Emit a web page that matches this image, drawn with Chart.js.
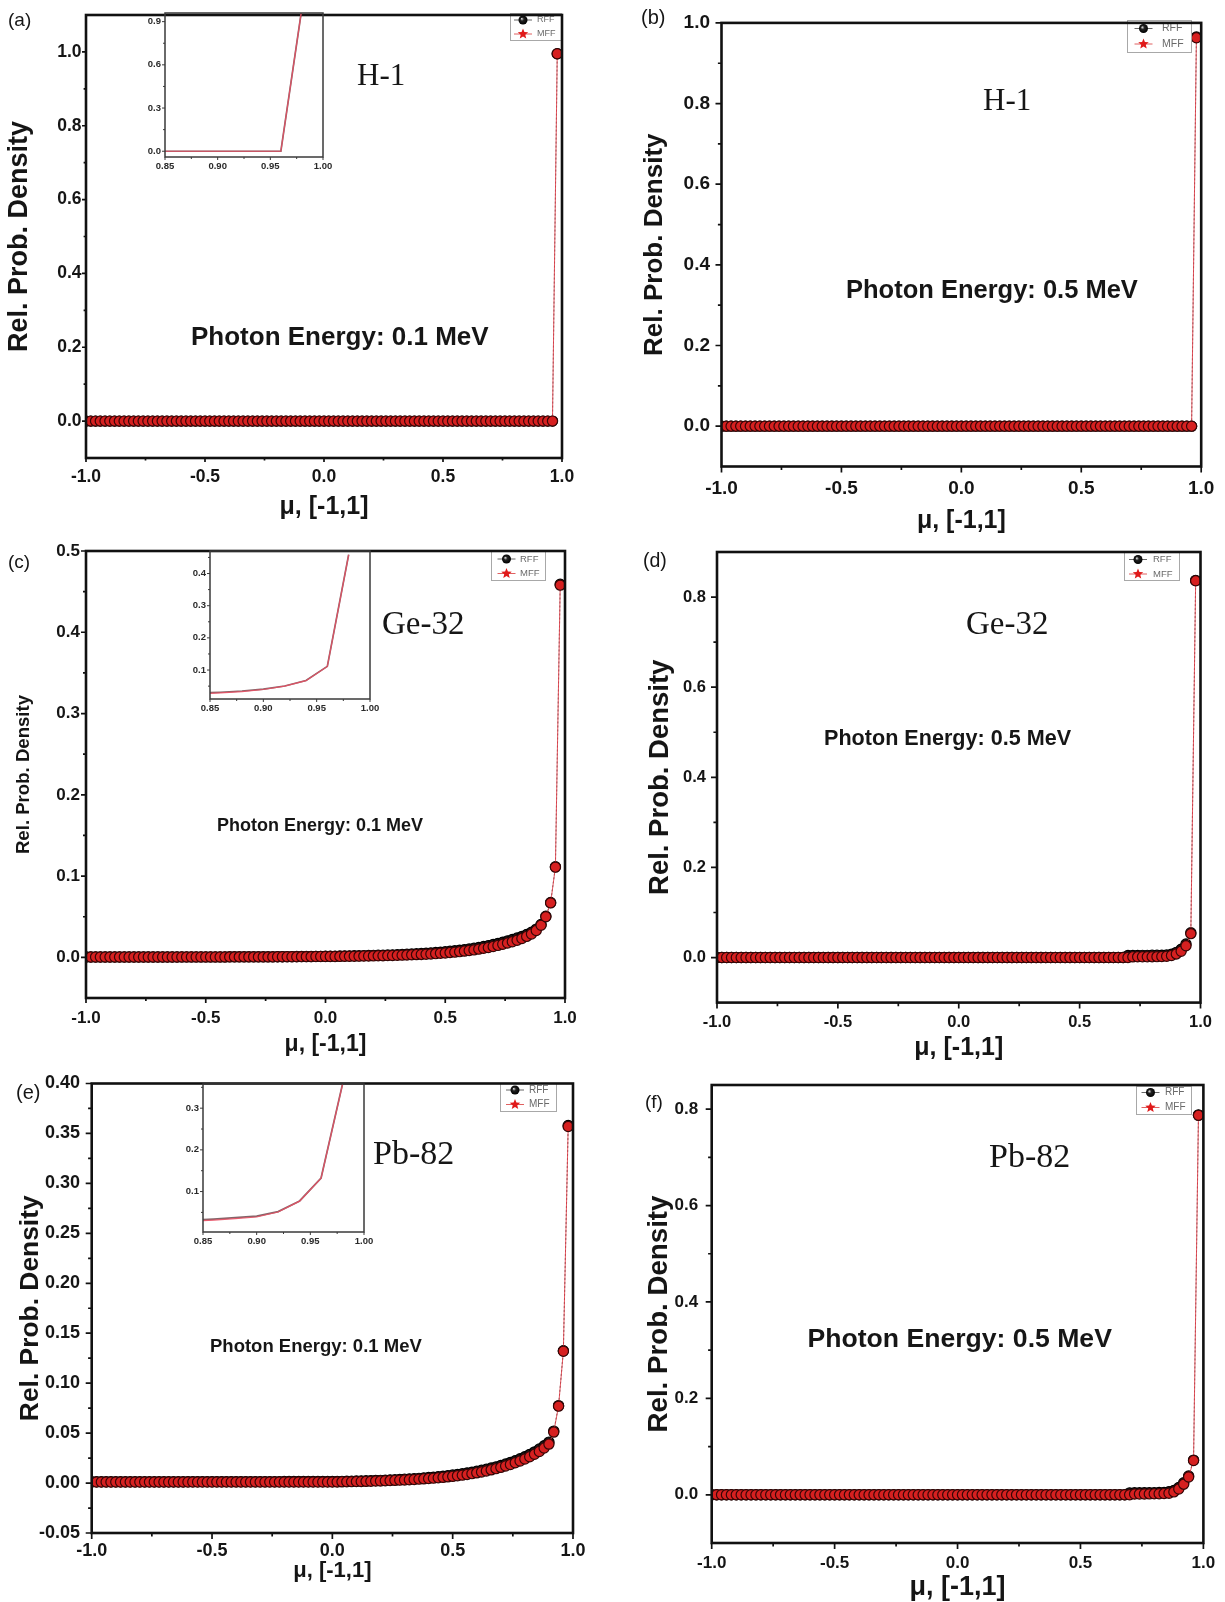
<!DOCTYPE html>
<html>
<head>
<meta charset="utf-8">
<script src="https://cdn.jsdelivr.net/npm/chart.js@4/dist/chart.umd.min.js"></script>
<style>
html,body{margin:0;padding:0;background:#fff;overflow:hidden;}
#page{position:relative;width:1225px;height:1602px;overflow:hidden;background:#fff;}
#page canvas{position:absolute;}
.t{position:absolute;white-space:nowrap;color:#161616;line-height:1;}
</style>
</head>
<body>
<div id="page"></div>
<script>
// ---------------- DATA ----------------
const mu = [
 -1.00,-0.98,-0.96,-0.94,-0.92,-0.90,-0.88,-0.86,-0.84,-0.82,
 -0.80,-0.78,-0.76,-0.74,-0.72,-0.70,-0.68,-0.66,-0.64,-0.62,
 -0.60,-0.58,-0.56,-0.54,-0.52,-0.50,-0.48,-0.46,-0.44,-0.42,
 -0.40,-0.38,-0.36,-0.34,-0.32,-0.30,-0.28,-0.26,-0.24,-0.22,
 -0.20,-0.18,-0.16,-0.14,-0.12,-0.10,-0.08,-0.06,-0.04,-0.02,
  0.00, 0.02, 0.04, 0.06, 0.08, 0.10, 0.12, 0.14, 0.16, 0.18,
  0.20, 0.22, 0.24, 0.26, 0.28, 0.30, 0.32, 0.34, 0.36, 0.38,
  0.40, 0.42, 0.44, 0.46, 0.48, 0.50, 0.52, 0.54, 0.56, 0.58,
  0.60, 0.62, 0.64, 0.66, 0.68, 0.70, 0.72, 0.74, 0.76, 0.78,
  0.80, 0.82, 0.84, 0.86, 0.88, 0.90, 0.92, 0.94, 0.96, 0.98
];

// (a) H-1, 0.1 MeV
const h1_01_RFF = [
 0,0,0,0,0,0,0,0,0,0, 0,0,0,0,0,0,0,0,0,0, 0,0,0,0,0,0,0,0,0,0,
 0,0,0,0,0,0,0,0,0,0, 0,0,0,0,0,0,0,0,0,0, 0,0,0,0,0,0,0,0,0,0,
 0,0,0,0,0,0,0,0,0,0, 0,0,0,0,0,0,0,0,0,0, 0,0,0,0,0,0,0,0,0,0,
 0,0,0,0,0,0,0,0,0,0.995
];
const h1_01_MFF = [
 0,0,0,0,0,0,0,0,0,0, 0,0,0,0,0,0,0,0,0,0, 0,0,0,0,0,0,0,0,0,0,
 0,0,0,0,0,0,0,0,0,0, 0,0,0,0,0,0,0,0,0,0, 0,0,0,0,0,0,0,0,0,0,
 0,0,0,0,0,0,0,0,0,0, 0,0,0,0,0,0,0,0,0,0, 0,0,0,0,0,0,0,0,0,0,
 0,0,0,0,0,0,0,0,0,0.995
];
// (b) H-1, 0.5 MeV
const h1_05_RFF = [
 0,0,0,0,0,0,0,0,0,0, 0,0,0,0,0,0,0,0,0,0, 0,0,0,0,0,0,0,0,0,0,
 0,0,0,0,0,0,0,0,0,0, 0,0,0,0,0,0,0,0,0,0, 0,0,0,0,0,0,0,0,0,0,
 0,0,0,0,0,0,0,0,0,0, 0,0,0,0,0,0,0,0,0,0, 0,0,0,0,0,0,0,0,0,0,
 0,0,0,0,0,0,0,0,0,0.965
];
const h1_05_MFF = [
 0,0,0,0,0,0,0,0,0,0, 0,0,0,0,0,0,0,0,0,0, 0,0,0,0,0,0,0,0,0,0,
 0,0,0,0,0,0,0,0,0,0, 0,0,0,0,0,0,0,0,0,0, 0,0,0,0,0,0,0,0,0,0,
 0,0,0,0,0,0,0,0,0,0, 0,0,0,0,0,0,0,0,0,0, 0,0,0,0,0,0,0,0,0,0,
 0,0,0,0,0,0,0,0,0,0.963
];
// (c) Ge-32, 0.1 MeV
const ge32_01_RFF = [
 0.0005,0.0005,0.0005,0.0005,0.0005,0.0005,0.0005,0.0005,0.0005,0.0005,
 0.0005,0.0005,0.0005,0.0005,0.0005,0.0005,0.0005,0.0005,0.0005,0.0005,
 0.0006,0.0006,0.0006,0.0006,0.0006,0.0006,0.0006,0.0006,0.0006,0.0006,
 0.0007,0.0007,0.0007,0.0007,0.0007,0.0007,0.0007,0.0007,0.0007,0.0007,
 0.0008,0.0008,0.0009,0.0009,0.0010,0.0010,0.0011,0.0011,0.0012,0.0012,
 0.0013,0.0014,0.0015,0.0016,0.0017,0.0018,0.0019,0.0020,0.0021,0.0023,
 0.0024,0.0026,0.0027,0.0029,0.0031,0.0033,0.0035,0.0038,0.0041,0.0044,
 0.0047,0.0051,0.0055,0.0059,0.0064,0.0069,0.0075,0.0081,0.0088,0.0095,
 0.0103,0.0112,0.0122,0.0133,0.0145,0.0158,0.0172,0.0187,0.0203,0.0220,
 0.0238,0.0258,0.0282,0.0310,0.0348,0.0405,0.0505,0.0675,0.1115,0.4590
];
const ge32_01_MFF = [
 0.0004,0.0004,0.0004,0.0004,0.0004,0.0004,0.0004,0.0004,0.0004,0.0004,
 0.0004,0.0004,0.0004,0.0004,0.0004,0.0004,0.0004,0.0004,0.0004,0.0004,
 0.0005,0.0005,0.0005,0.0005,0.0005,0.0005,0.0005,0.0005,0.0005,0.0005,
 0.0006,0.0006,0.0006,0.0006,0.0006,0.0006,0.0006,0.0006,0.0006,0.0006,
 0.0007,0.0007,0.0008,0.0008,0.0008,0.0009,0.0009,0.0009,0.0010,0.0010,
 0.0010,0.0011,0.0011,0.0012,0.0013,0.0013,0.0014,0.0015,0.0016,0.0017,
 0.0018,0.0019,0.0020,0.0022,0.0023,0.0025,0.0027,0.0029,0.0031,0.0034,
 0.0036,0.0039,0.0042,0.0046,0.0050,0.0054,0.0059,0.0064,0.0070,0.0077,
 0.0084,0.0092,0.0101,0.0111,0.0122,0.0134,0.0147,0.0161,0.0176,0.0192,
 0.0210,0.0232,0.0258,0.0288,0.0330,0.0395,0.0500,0.0670,0.1110,0.4580
];
// (d) Ge-32, 0.5 MeV
const ge32_05_RFF = [
 0,0,0,0,0,0,0,0,0,0, 0,0,0,0,0,0,0,0,0,0, 0,0,0,0,0,0,0,0,0,0,
 0,0,0,0,0,0,0,0,0,0, 0,0,0,0,0,0,0,0,0,0, 0,0,0,0,0,0,0,0,0,0,
 0,0,0,0,0,0,0,0,0,0, 0,0,0,0,0,0,0,0,0,0,
 0,0,0,0,0,0.0045,0.0048,0.0048,0.0049,0.0049,
 0.0050,0.0051,0.0052,0.0056,0.0075,0.0115,0.0185,0.0300,0.0550,0.8370
];
const ge32_05_MFF = [
 0,0,0,0,0,0,0,0,0,0, 0,0,0,0,0,0,0,0,0,0, 0,0,0,0,0,0,0,0,0,0,
 0,0,0,0,0,0,0,0,0,0, 0,0,0,0,0,0,0,0,0,0, 0,0,0,0,0,0,0,0,0,0,
 0,0,0,0,0,0,0,0,0,0, 0,0,0,0,0,0,0,0,0,0,
 0,0,0,0,0,0,0.0015,0.0016,0.0017,0.0018,
 0.0019,0.0020,0.0022,0.0028,0.0045,0.0080,0.0140,0.0260,0.0530,0.8360
];
// (e) Pb-82, 0.1 MeV
const pb82_01_RFF = [
 0.0013,0.0013,0.0013,0.0013,0.0013,0.0013,0.0013,0.0013,0.0013,0.0013,
 0.0013,0.0013,0.0013,0.0013,0.0013,0.0013,0.0013,0.0013,0.0013,0.0013,
 0.0014,0.0014,0.0014,0.0014,0.0014,0.0014,0.0014,0.0014,0.0014,0.0014,
 0.0014,0.0014,0.0014,0.0014,0.0014,0.0014,0.0014,0.0014,0.0014,0.0014,
 0.0015,0.0015,0.0015,0.0015,0.0015,0.0015,0.0015,0.0015,0.0015,0.0015,
 0.0015,0.0016,0.0017,0.0018,0.0019,0.0020,0.0021,0.0023,0.0024,0.0026,
 0.0027,0.0029,0.0031,0.0033,0.0036,0.0038,0.0041,0.0044,0.0047,0.0051,
 0.0055,0.0059,0.0064,0.0069,0.0074,0.0080,0.0086,0.0093,0.0101,0.0109,
 0.0118,0.0128,0.0138,0.0150,0.0162,0.0176,0.0191,0.0207,0.0224,0.0243,
 0.0264,0.0287,0.0312,0.0341,0.0374,0.0410,0.0520,0.0775,0.1325,0.3580
];
const pb82_01_MFF = [
 0.0010,0.0010,0.0010,0.0010,0.0010,0.0010,0.0010,0.0010,0.0010,0.0010,
 0.0010,0.0010,0.0010,0.0010,0.0010,0.0010,0.0010,0.0010,0.0010,0.0010,
 0.0010,0.0010,0.0010,0.0010,0.0010,0.0010,0.0010,0.0010,0.0010,0.0010,
 0.0010,0.0010,0.0010,0.0010,0.0010,0.0010,0.0010,0.0010,0.0010,0.0010,
 0.0010,0.0010,0.0010,0.0010,0.0010,0.0010,0.0010,0.0010,0.0010,0.0010,
 0.0010,0.0011,0.0012,0.0013,0.0014,0.0015,0.0016,0.0017,0.0018,0.0020,
 0.0021,0.0023,0.0025,0.0027,0.0029,0.0031,0.0033,0.0036,0.0039,0.0042,
 0.0045,0.0049,0.0053,0.0057,0.0062,0.0067,0.0073,0.0079,0.0086,0.0094,
 0.0102,0.0111,0.0121,0.0132,0.0144,0.0157,0.0171,0.0186,0.0203,0.0221,
 0.0241,0.0263,0.0288,0.0316,0.0350,0.0390,0.0510,0.0770,0.1320,0.3570
];
// (f) Pb-82, 0.5 MeV
const pb82_05_RFF = [
 0,0,0,0,0,0,0,0,0,0, 0,0,0,0,0,0,0,0,0,0, 0,0,0,0,0,0,0,0,0,0,
 0,0,0,0,0,0,0,0,0,0, 0,0,0,0,0,0,0,0,0,0, 0,0,0,0,0,0,0,0,0,0,
 0,0,0,0,0,0,0,0,0,0, 0,0,0,0,0,0,0,0,0,0,
 0,0,0,0,0,0.0040,0.0042,0.0042,0.0043,0.0043,
 0.0044,0.0046,0.0050,0.0065,0.0090,0.0150,0.0250,0.0390,0.0720,0.7880
];
const pb82_05_MFF = [
 0,0,0,0,0,0,0,0,0,0, 0,0,0,0,0,0,0,0,0,0, 0,0,0,0,0,0,0,0,0,0,
 0,0,0,0,0,0,0,0,0,0, 0,0,0,0,0,0,0,0,0,0, 0,0,0,0,0,0,0,0,0,0,
 0,0,0,0,0,0,0,0,0,0, 0,0,0,0,0,0,0,0,0,0,
 0,0,0,0,0,0,0.0015,0.0016,0.0017,0.0018,
 0.0020,0.0022,0.0025,0.0032,0.0060,0.0120,0.0220,0.0370,0.0710,0.7870
];

// tick values
const xMajor = [-1.0, -0.5, 0.0, 0.5, 1.0];
const xMinor = [-0.75, -0.25, 0.25, 0.75];
const yMajorA = [0.0, 0.2, 0.4, 0.6, 0.8, 1.0];
const yMinorA = [0.1, 0.3, 0.5, 0.7, 0.9];
const yMajorB = [0.0, 0.2, 0.4, 0.6, 0.8, 1.0];
const yMinorB = [0.1, 0.3, 0.5, 0.7, 0.9];
const yMajorC = [0.0, 0.1, 0.2, 0.3, 0.4, 0.5];
const yMinorC = [0.05, 0.15, 0.25, 0.35, 0.45];
const yMajorD = [0.0, 0.2, 0.4, 0.6, 0.8];
const yMinorD = [0.1, 0.3, 0.5, 0.7];
const yMajorE = [-0.05, 0.00, 0.05, 0.10, 0.15, 0.20, 0.25, 0.30, 0.35, 0.40];
const yMinorE = [-0.025, 0.025, 0.075, 0.125, 0.175, 0.225, 0.275, 0.325, 0.375];
const yMajorF = [0.0, 0.2, 0.4, 0.6, 0.8];
const yMinorF = [0.1, 0.3, 0.5, 0.7];
const insetXMajor = [0.85, 0.90, 0.95, 1.00];
const insetXMinor = [0.875, 0.925, 0.975];
const insetYMajorA = [0.0, 0.3, 0.6, 0.9];
const insetYMinorA = [0.15, 0.45, 0.75];
const insetYMajorC = [0.1, 0.2, 0.3, 0.4];
const insetYMinorC = [0.05, 0.15, 0.25, 0.35, 0.45];
const insetYMajorE = [0.1, 0.2, 0.3];
const insetYMinorE = [0.05, 0.15, 0.25, 0.35];

const seriesNames = ['RFF', 'MFF'];
const xTitleText = 'μ, [-1,1]';
const yTitleText = 'Rel. Prob. Density';

// ---------------- LAYOUT / STYLE ----------------
const FONT_SANS = "'Liberation Sans', Arial, Helvetica, sans-serif";
const FONT_SERIF = "'Liberation Serif', 'Times New Roman', Times, serif";
const page = document.getElementById('page');

const panels = [
 {rff:h1_01_RFF, mff:h1_01_MFF, yMin:-0.1, yMax:1.1, yMajor:yMajorA, yMinor:yMinorA, dec:1,
  box:{x:0,y:0,w:612,h:548}, area:{L:86,T:13,R:562,B:458},
  yTitle:{size:27,cx:19.5}, xTitle:{size:25,cy:507}, tick:17.5, yPad:4.5, xPad:8.5, tl:4,
  legend:{x:510,y:13,w:52,h:28,r1:20,r2:34,sx:523,tx:537,fs:9}},
 {rff:h1_05_RFF, mff:h1_05_MFF, yMin:-0.1, yMax:1.0, yMajor:yMajorB, yMinor:yMinorB, dec:1,
  box:{x:612,y:0,w:613,h:548}, area:{L:721.5,T:18.6,R:1204,B:466.5},
  yTitle:{size:26,cx:655}, xTitle:{size:25,cy:521}, tick:19, yPad:11.5, xPad:10.6, tl:6,
  legend:{x:1127,y:20,w:65,h:33,r1:28.5,r2:44,sx:1143.5,tx:1162,fs:10.5}},
 {rff:ge32_01_RFF, mff:ge32_01_MFF, yMin:-0.05, yMax:0.5, yMajor:yMajorC, yMinor:yMinorC, dec:1,
  box:{x:0,y:530,w:612,h:540}, area:{L:86,T:551,R:565,B:998},
  yTitle:{size:18.6,cx:24}, xTitle:{size:23,cy:1045}, tick:17, yPad:6, xPad:10.3, tl:5,
  legend:{x:491,y:551,w:55,h:30,r1:559,r2:573.5,sx:506.5,tx:520,fs:9.5}},
 {rff:ge32_05_RFF, mff:ge32_05_MFF, yMin:-0.1, yMax:0.9, yMajor:yMajorD, yMinor:yMinorD, dec:1,
  box:{x:612,y:530,w:613,h:540}, area:{L:717,T:552,R:1200.5,B:1002.6},
  yTitle:{size:27.5,cx:660}, xTitle:{size:25,cy:1048}, tick:16.5, yPad:11, xPad:9.5, tl:6,
  legend:{x:1124,y:552,w:56,h:29,r1:559.5,r2:574,sx:1138,tx:1153,fs:9.5}},
 {rff:pb82_01_RFF, mff:pb82_01_MFF, yMin:-0.05, yMax:0.40, yMajor:yMajorE, yMinor:yMinorE, dec:2,
  box:{x:0,y:1060,w:612,h:560}, area:{L:91.7,T:1083.5,R:573,B:1533},
  yTitle:{size:26.4,cx:31}, xTitle:{size:22,cy:1571}, tick:18, yPad:11.7, xPad:7.2, tl:6,
  legend:{x:500,y:1083,w:57,h:29,r1:1090,r2:1104.5,sx:515,tx:529,fs:10}},
 {rff:pb82_05_RFF, mff:pb82_05_MFF, yMin:-0.1, yMax:0.85, yMajor:yMajorF, yMinor:yMinorF, dec:1,
  box:{x:612,y:1060,w:613,h:560}, area:{L:711.7,T:1085,R:1206,B:1543},
  yTitle:{size:27.7,cx:659}, xTitle:{size:27,cy:1588}, tick:17, yPad:13.5, xPad:9.8, tl:6,
  legend:{x:1136,y:1086,w:56,h:29,r1:1092.5,r2:1107.5,sx:1150.5,tx:1165,fs:10}}
];

const insets = [
 {rff:h1_01_RFF, mff:h1_01_MFF, yMin:-0.04, yMax:0.96, yMajor:insetYMajorA, yMinor:insetYMinorA, area:{L:165,T:13,R:323,B:157}},
 {rff:ge32_01_RFF, mff:ge32_01_MFF, yMin:0.01, yMax:0.47, yMajor:insetYMajorC, yMinor:insetYMinorC, area:{L:210,T:551,R:370,B:699}},
 {rff:pb82_01_RFF, mff:pb82_01_MFF, yMin:0.003, yMax:0.358, yMajor:insetYMajorE, yMinor:insetYMinorE, area:{L:203,T:1083.5,R:364,B:1232}}
];

const notes = [
 {text:'(a)', x:8, y:21, size:19, kind:'label'},
 {text:'H-1', x:357, y:84.5, size:31, kind:'elem'},
 {text:'Photon Energy: 0.1 MeV', x:191, y:336, size:26, kind:'energy'},
 {text:'(b)', x:641, y:18, size:20, kind:'label'},
 {text:'H-1', x:983, y:110, size:31, kind:'elem'},
 {text:'Photon Energy: 0.5 MeV', x:846, y:289, size:25.5, kind:'energy'},
 {text:'(c)', x:8, y:563, size:19, kind:'label'},
 {text:'Ge-32', x:382, y:635, size:33, kind:'elem'},
 {text:'Photon Energy: 0.1 MeV', x:217, y:825, size:18, kind:'energy'},
 {text:'(d)', x:643, y:562, size:19.5, kind:'label'},
 {text:'Ge-32', x:966, y:635, size:33, kind:'elem'},
 {text:'Photon Energy: 0.5 MeV', x:824, y:738, size:21.6, kind:'energy'},
 {text:'(e)', x:16, y:1093, size:20, kind:'label'},
 {text:'Pb-82', x:373, y:1164, size:34, kind:'elem'},
 {text:'Photon Energy: 0.1 MeV', x:210, y:1346, size:18.5, kind:'energy'},
 {text:'(f)', x:645, y:1103, size:19, kind:'label'},
 {text:'Pb-82', x:989, y:1167, size:34, kind:'elem'},
 {text:'Photon Energy: 0.5 MeV', x:807.5, y:1338, size:26.6, kind:'energy'}
];

// ---------------- HELPERS ----------------
function pts(vals) { return mu.map((m, i) => ({x: m, y: vals[i]})); }

function starPath(ctx, cx, cy, R, r) {
  ctx.beginPath();
  for (let k = 0; k < 10; k++) {
    const ang = -Math.PI / 2 + k * Math.PI / 5;
    const rad = (k % 2 === 0) ? R : r;
    const px = cx + rad * Math.cos(ang), py = cy + rad * Math.sin(ang);
    if (k === 0) ctx.moveTo(px, py); else ctx.lineTo(px, py);
  }
  ctx.closePath();
}

function drawLegend(ctx, L) {
  ctx.fillStyle = '#fff';
  ctx.fillRect(L.x, L.y, L.w, L.h);
  ctx.strokeStyle = '#a8a8a8'; ctx.lineWidth = 1;
  ctx.strokeRect(L.x + 0.5, L.y + 0.5, L.w - 1, L.h - 1);
  // RFF row
  ctx.strokeStyle = '#666'; ctx.lineWidth = 1;
  ctx.beginPath(); ctx.moveTo(L.sx - 9, L.r1); ctx.lineTo(L.sx + 9, L.r1); ctx.stroke();
  const g = ctx.createRadialGradient(L.sx - 1.3, L.r1 - 1.3, 0.3, L.sx, L.r1, 4.5);
  g.addColorStop(0, '#d0d0d0'); g.addColorStop(0.35, '#222'); g.addColorStop(1, '#000');
  ctx.fillStyle = g; ctx.beginPath(); ctx.arc(L.sx, L.r1, 4.5, 0, Math.PI * 2); ctx.fill();
  // MFF row
  ctx.strokeStyle = '#e06060';
  ctx.beginPath(); ctx.moveTo(L.sx - 9, L.r2); ctx.lineTo(L.sx + 9, L.r2); ctx.stroke();
  ctx.fillStyle = '#e01a1a'; starPath(ctx, L.sx, L.r2, 5.5, 2.4); ctx.fill();
  // texts
  ctx.fillStyle = '#6a6a6a';
  ctx.font = L.fs + 'px ' + FONT_SANS;
  ctx.textBaseline = 'middle'; ctx.textAlign = 'left';
  ctx.fillText(seriesNames[0], L.tx, L.r1);
  ctx.fillText(seriesNames[1], L.tx, L.r2);
}

function makeFramePlugin(cfg) {
  return {
    id: 'frameTicks',
    afterDraw(chart) {
      const ctx = chart.ctx, ca = chart.chartArea, xs = chart.scales.x, ys = chart.scales.y;
      ctx.save();
      if (cfg.legend) drawLegend(ctx, cfg.legend);
      ctx.strokeStyle = cfg.color; ctx.lineWidth = cfg.tickWidth; ctx.lineCap = 'butt';
      ctx.beginPath();
      cfg.xMajor.forEach(v => { const p = xs.getPixelForValue(v); ctx.moveTo(p, ca.bottom); ctx.lineTo(p, ca.bottom + cfg.major); });
      cfg.xMinor.forEach(v => { const p = xs.getPixelForValue(v); ctx.moveTo(p, ca.bottom); ctx.lineTo(p, ca.bottom + cfg.minor); });
      cfg.yMajor.forEach(v => { const p = ys.getPixelForValue(v); ctx.moveTo(ca.left, p); ctx.lineTo(ca.left - cfg.major, p); });
      cfg.yMinor.forEach(v => { const p = ys.getPixelForValue(v); ctx.moveTo(ca.left, p); ctx.lineTo(ca.left - cfg.minor, p); });
      ctx.stroke();
      ctx.lineWidth = cfg.frameWidth;
      ctx.strokeRect(ca.left, ca.top, ca.right - ca.left, ca.bottom - ca.top);
      ctx.restore();
    }
  };
}

function makeCanvas(box) {
  const cv = document.createElement('canvas');
  cv.width = box.w; cv.height = box.h;
  cv.style.left = box.x + 'px'; cv.style.top = box.y + 'px';
  cv.style.width = box.w + 'px'; cv.style.height = box.h + 'px';
  page.appendChild(cv);
  return cv;
}

function mainChart(p) {
  const cv = makeCanvas(p.box);
  const a = p.area;
  const yScaleLeft = p.yTitle.cx - p.yTitle.size / 2;
  const wY = a.L - yScaleLeft;
  const xScaleBottom = p.xTitle.cy + p.xTitle.size / 2;
  const hX = xScaleBottom - a.B;
  const pad = {
    left: yScaleLeft - p.box.x,
    top: a.T - p.box.y,
    right: p.box.x + p.box.w - a.R,
    bottom: p.box.y + p.box.h - xScaleBottom
  };
  const lg = p.legend;
  const legendLocal = {x: lg.x - p.box.x, y: lg.y - p.box.y, w: lg.w, h: lg.h,
    r1: lg.r1 - p.box.y, r2: lg.r2 - p.box.y, sx: lg.sx - p.box.x, tx: lg.tx - p.box.x, fs: lg.fs};
  new Chart(cv, {
    type: 'line',
    data: {
      datasets: [
        {label: seriesNames[1], data: pts(p.mff), borderColor: 'rgba(226,60,70,0.85)', borderWidth: 1,
         pointRadius: 5.1, pointBackgroundColor: '#d62020', pointBorderColor: '#360606', pointBorderWidth: 1.2, tension: 0},
        {label: seriesNames[0], data: pts(p.rff), borderColor: 'rgba(60,60,60,0.8)', borderWidth: 1, borderDash: [2, 2],
         pointRadius: 5.1, pointBackgroundColor: '#1b1b1b', pointBorderColor: '#000', pointBorderWidth: 1.2, tension: 0}
      ]
    },
    options: {
      responsive: false, animation: false, devicePixelRatio: 1,
      layout: {autoPadding: false, padding: pad},
      plugins: {legend: {display: false}, tooltip: {enabled: false}},
      scales: {
        x: {
          type: 'linear', min: -1, max: 1,
          afterBuildTicks: s => { s.ticks = xMajor.map(v => ({value: v})); },
          afterFit: s => { s.height = hX; },
          grid: {display: false, drawTicks: false}, border: {display: false},
          ticks: {autoSkip: false, maxRotation: 0, padding: p.xPad, color: '#151515',
                  font: {family: FONT_SANS, weight: 'bold', size: p.tick},
                  callback: v => Number(v).toFixed(1)},
          title: {display: true, text: xTitleText, color: '#151515', padding: 0,
                  font: {family: FONT_SANS, weight: 'bold', size: p.xTitle.size, lineHeight: 1}}
        },
        y: {
          type: 'linear', min: p.yMin, max: p.yMax,
          afterBuildTicks: s => { s.ticks = p.yMajor.map(v => ({value: v})); },
          afterFit: s => { s.width = wY; },
          grid: {display: false, drawTicks: false}, border: {display: false},
          ticks: {autoSkip: false, padding: p.yPad, color: '#151515',
                  font: {family: FONT_SANS, weight: 'bold', size: p.tick},
                  callback: v => Number(v).toFixed(p.dec)},
          title: {display: true, text: yTitleText, color: '#151515', padding: 0,
                  font: {family: FONT_SANS, weight: 'bold', size: p.yTitle.size, lineHeight: 1}}
        }
      }
    },
    plugins: [makeFramePlugin({color: '#111', tickWidth: 1.7, frameWidth: 2.6, major: p.tl, minor: p.tl * 0.6,
      xMajor: xMajor, xMinor: xMinor, yMajor: p.yMajor, yMinor: p.yMinor, legend: legendLocal})]
  });
}

function insetChart(q) {
  const a = q.area;
  const box = {x: a.L - 40, y: a.T - 14, w: (a.R - a.L) + 58, h: (a.B - a.T) + 40};
  const cv = makeCanvas(box);
  const wY = 40, hX = 18;
  const pad = {left: 0, top: 14, right: box.w - 40 - (a.R - a.L), bottom: box.y + box.h - a.B - hX};
  new Chart(cv, {
    type: 'line',
    data: {
      datasets: [
        {label: seriesNames[1], data: pts(q.mff), borderColor: 'rgba(232,80,100,0.9)', borderWidth: 1.2, pointRadius: 0, tension: 0},
        {label: seriesNames[0], data: pts(q.rff), borderColor: 'rgba(90,50,55,0.75)', borderWidth: 1.7, pointRadius: 0, tension: 0}
      ]
    },
    options: {
      responsive: false, animation: false, devicePixelRatio: 1,
      layout: {autoPadding: false, padding: pad},
      plugins: {legend: {display: false}, tooltip: {enabled: false}},
      scales: {
        x: {
          type: 'linear', min: 0.85, max: 1.0,
          afterBuildTicks: s => { s.ticks = insetXMajor.map(v => ({value: v})); },
          afterFit: s => { s.height = hX; },
          grid: {display: false, drawTicks: false}, border: {display: false},
          ticks: {autoSkip: false, maxRotation: 0, padding: 3.3, color: '#2a2a2a',
                  font: {family: FONT_SANS, size: 9.5, weight: 'bold'}, callback: v => Number(v).toFixed(2)}
        },
        y: {
          type: 'linear', min: q.yMin, max: q.yMax,
          afterBuildTicks: s => { s.ticks = q.yMajor.map(v => ({value: v})); },
          afterFit: s => { s.width = wY; },
          grid: {display: false, drawTicks: false}, border: {display: false},
          ticks: {autoSkip: false, padding: 4, color: '#2a2a2a',
                  font: {family: FONT_SANS, size: 9.5, weight: 'bold'}, callback: v => Number(v).toFixed(1)}
        }
      }
    },
    plugins: [makeFramePlugin({color: '#3a3a3a', tickWidth: 1, frameWidth: 1.5, major: 3, minor: 2,
      xMajor: insetXMajor, xMinor: insetXMinor, yMajor: q.yMajor, yMinor: q.yMinor, legend: null})]
  });
}

panels.forEach(mainChart);
insets.forEach(insetChart);

notes.forEach(n => {
  const d = document.createElement('div');
  d.className = 't';
  d.textContent = n.text;
  d.style.fontSize = n.size + 'px';
  let top;
  if (n.kind === 'elem') {
    d.style.fontFamily = FONT_SERIF;
    top = n.y - 0.8375 * n.size;
  } else if (n.kind === 'energy') {
    d.style.fontFamily = FONT_SANS; d.style.fontWeight = 'bold';
    top = n.y - 0.4865 * n.size;
  } else {
    d.style.fontFamily = FONT_SANS;
    top = n.y - 0.56 * n.size;
  }
  d.style.left = n.x + 'px';
  d.style.top = top + 'px';
  page.appendChild(d);
});
</script>
</body>
</html>
